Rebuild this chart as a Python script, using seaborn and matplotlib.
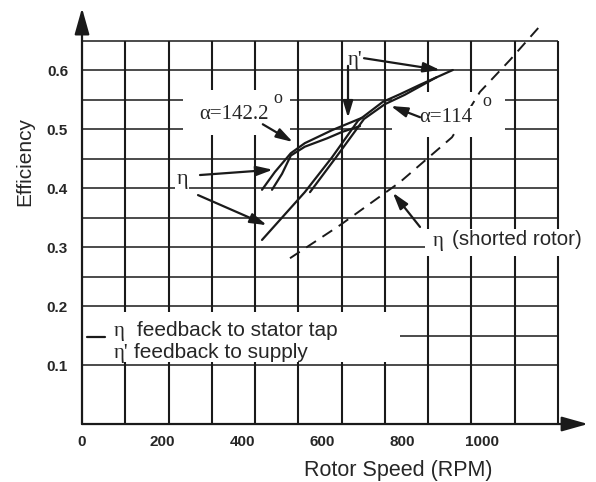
import numpy as np
import matplotlib as mpl
mpl.use('Agg')
import matplotlib.pyplot as plt
from matplotlib.patches import Rectangle
import seaborn as sns

# values
rpm_eta_142 = [450, 482, 522, 557, 625, 700]
eff_eta_142 = [0.397, 0.427, 0.459, 0.476, 0.498, 0.519]

rpm_etap_142 = [475, 500, 522, 557, 612, 650, 695]
eff_etap_142 = [0.397, 0.424, 0.455, 0.470, 0.484, 0.495, 0.505]

rpm_eta_114 = [450, 557, 625, 690, 752, 795, 845, 927]
eff_eta_114 = [0.312, 0.393, 0.452, 0.514, 0.546, 0.559, 0.575, 0.600]

rpm_etap_114 = [570, 635, 705, 757, 807, 887]
eff_etap_114 = [0.393, 0.452, 0.517, 0.542, 0.558, 0.588]

rpm_shorted = [520, 645, 795, 925, 995, 1070, 1152]
eff_shorted = [0.281, 0.337, 0.410, 0.486, 0.563, 0.617, 0.680]

x_ticks = [0, 200, 400, 600, 800, 1000]
y_ticks = [0.1, 0.2, 0.3, 0.4, 0.5, 0.6]

sns.set_theme(style='white')
plt.rcParams['font.family'] = ['Liberation Sans', 'DejaVu Sans']
serif = ['Liberation Serif', 'DejaVu Serif']

fig = plt.figure(figsize=(5.96, 4.82), dpi=100)
ax = fig.add_axes([0.1376, 0.1203, 0.849, 0.863])
ax.set_xlim(0, 1265)
ax.set_ylim(0, 0.705)
for s in ax.spines.values():
    s.set_visible(False)

# grid box (not aligned with the tick labels in the original)
x_right = 1190
y_top = 0.65
grid_x = np.linspace(0, x_right, 12)[1:]
grid_y = np.arange(0.10, y_top + 0.001, 0.05)
ax.hlines(grid_y, 0, x_right, color='k', lw=1.1, zorder=1)
ax.vlines(grid_x, 0, y_top, color='k', lw=1.5, zorder=1)

# white patches where the grid is broken around labels
for x0, y0, w, h in [(2, 0.105, 793, 0.085),
                     (252, 0.49, 268, 0.076),
                     (775, 0.487, 282, 0.076),
                     (857, 0.285, 420, 0.045)]:
    ax.add_patch(Rectangle((x0, y0), w, h, fc='white', ec='none', zorder=2))

# axes with arrows
arrow = dict(arrowstyle='-|>,head_length=1.6,head_width=0.45', lw=1.6,
             color='k', shrinkA=0, shrinkB=0, mutation_scale=10)
ax.annotate('', xy=(0, 1), xytext=(0, 0), xycoords='axes fraction', arrowprops=arrow)
ax.annotate('', xy=(1, 0), xytext=(0, 0), xycoords='axes fraction', arrowprops=arrow)

# curves
for xs, ys in [(rpm_eta_142, eff_eta_142), (rpm_etap_142, eff_etap_142),
               (rpm_eta_114, eff_eta_114), (rpm_etap_114, eff_etap_114)]:
    sns.lineplot(x=xs, y=ys, ax=ax, color='k', lw=1.6, estimator=None,
                 sort=False, zorder=3)
sns.lineplot(x=rpm_shorted, y=eff_shorted, ax=ax, color='k', lw=1.4,
             linestyle=(0, (6, 4)), estimator=None, sort=False, zorder=3)
ax.lines[-1].set_clip_on(False)

# annotations
head = dict(arrowstyle='-|>,head_length=1.0,head_width=0.3', lw=1.6,
            color='k', shrinkA=0, shrinkB=0, mutation_scale=10)
ax.text(293, 0.524, 'α=142.2', family=serif, fontsize=15, ha='left', va='center', zorder=4)
ax.text(490, 0.551, 'o', family=serif, fontsize=13, ha='center', va='center', zorder=4)
ax.annotate('', xy=(527, 0.478), xytext=(452, 0.508), arrowprops=head, zorder=4)

ax.text(250, 0.414, 'η', family=serif, fontsize=16, ha='center', va='center', zorder=4,
        bbox=dict(fc='white', ec='none', pad=1))
ax.annotate('', xy=(477, 0.431), xytext=(295, 0.422), arrowprops=head, zorder=4)
ax.annotate('', xy=(462, 0.337), xytext=(290, 0.388), arrowprops=head, zorder=4)

ax.text(683, 0.616, "η'", family=serif, fontsize=15, ha='center', va='center', zorder=4)
ax.annotate('', xy=(895, 0.600), xytext=(705, 0.620), arrowprops=head, zorder=4)
ax.annotate('', xy=(665, 0.519), xytext=(665, 0.607), arrowprops=head, zorder=4)

ax.text(843, 0.520, 'α=114', family=serif, fontsize=15, ha='left', va='center', zorder=4,
        bbox=dict(fc='white', ec='none', pad=1))
ax.text(1012, 0.546, 'o', family=serif, fontsize=13, ha='center', va='center', zorder=4)
ax.annotate('', xy=(772, 0.539), xytext=(845, 0.520), arrowprops=head, zorder=4)

ax.text(890, 0.310, 'η', family=serif, fontsize=15, ha='center', va='center', zorder=4)
ax.text(925, 0.312, '(shorted rotor)', fontsize=14.8, ha='left', va='center', zorder=4)
ax.annotate('', xy=(777, 0.392), xytext=(845, 0.334), arrowprops=head, zorder=4)

# legend text
ax.plot([12, 58], [0.148, 0.148], color='k', lw=1.6, zorder=3)
ax.text(80, 0.157, 'η', family=serif, fontsize=15, ha='left', va='center', zorder=4)
ax.text(137, 0.159, 'feedback to stator tap', fontsize=15, ha='left', va='center', zorder=4)
ax.text(80, 0.120, "η'", family=serif, fontsize=15, ha='left', va='center', zorder=4)
ax.text(130, 0.122, 'feedback to supply', fontsize=15, ha='left', va='center', zorder=4)

# ticks and labels
ax.set_xticks(x_ticks)
ax.set_yticks(y_ticks)
ax.set_yticklabels(['0.1', '0.2', '0.3', '0.4', '0.5', '0.6'])
ax.tick_params(axis='both', length=0, labelsize=11)
ax.tick_params(axis='x', pad=8)
ax.tick_params(axis='y', pad=10)
for lab in ax.get_xticklabels() + ax.get_yticklabels():
    lab.set_fontweight('bold')
ax.grid(False)

ax.set_xlabel('Rotor Speed (RPM)', fontsize=15.5, va='center')
ax.xaxis.set_label_coords(0.6245, -0.1106)
ax.set_ylabel('Efficiency', fontsize=15, va='center')
ax.yaxis.set_label_coords(-0.1126, 0.63)

plt.savefig('out.png', dpi=100, facecolor='white')
